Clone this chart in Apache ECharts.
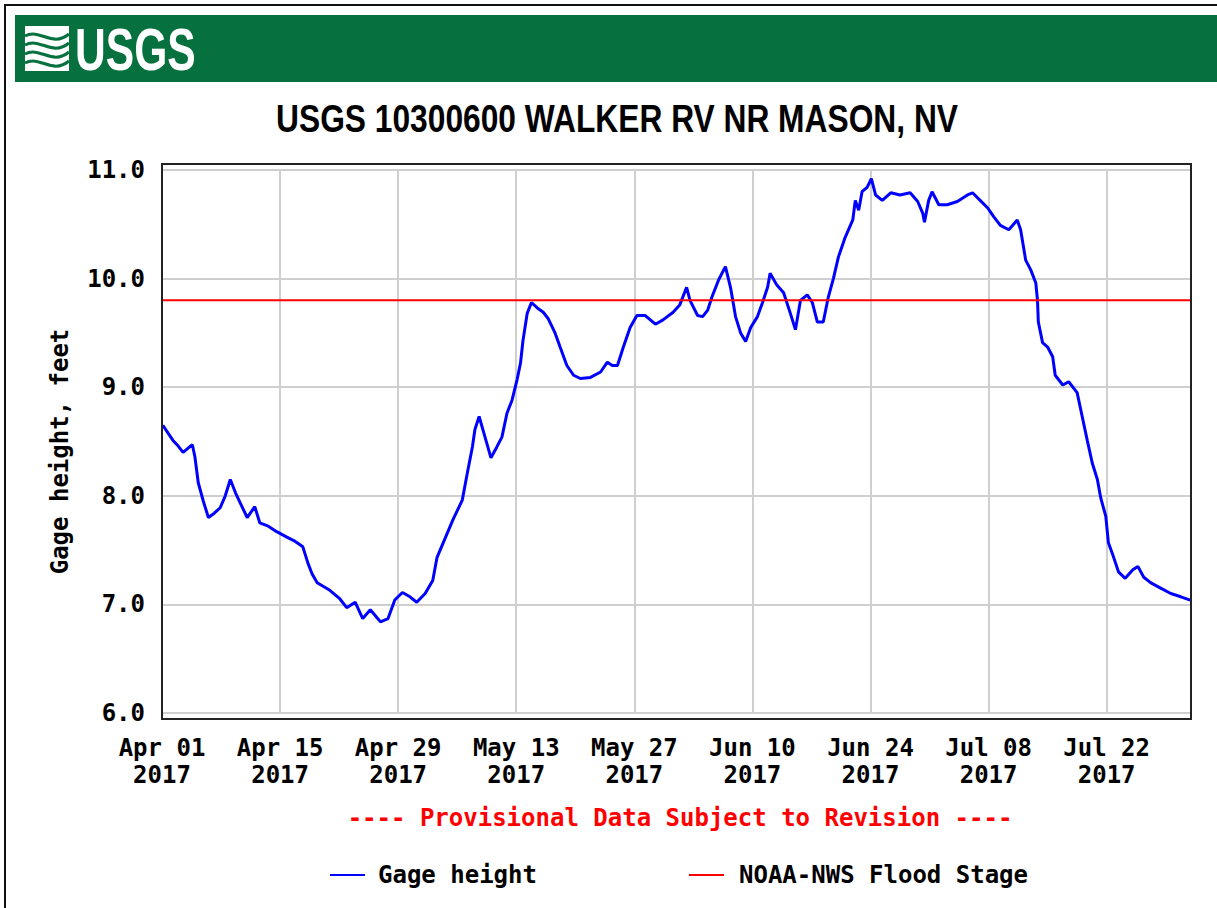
<!DOCTYPE html>
<html>
<head>
<meta charset="utf-8">
<script src="https://cdn.jsdelivr.net/npm/echarts@6/dist/echarts.min.js"></script>
<style>
html,body{margin:0;padding:0;background:#fff;}
#chart{width:1217px;height:908px;}
</style>
</head>
<body>
<div id="chart"></div>
<script>
// Days since 2017-04-01 00:00
const gageDays = [0.1,0.7,1.3,1.9,2.5,3.1,3.6,3.9,4.3,4.9,5.5,6.2,6.9,7.5,8.1,8.7,9.3,10.1,11.0,11.6,12.6,13.6,14.8,15.8,16.7,17.3,17.8,18.4,19.9,21.1,21.9,22.9,23.8,24.7,25.9,26.8,27.6,28.5,29.4,30.2,31.2,32.1,32.6,33.3,34.5,35.6,36.2,36.8,37.1,37.6,38.3,39.0,39.7,40.3,40.9,41.5,42.1,42.5,42.8,43.3,43.8,44.5,45.2,45.8,46.6,47.2,48.0,48.8,49.6,50.8,52.0,52.8,53.4,54.0,54.7,55.5,56.3,57.3,58.5,59.4,60.6,61.4,62.2,62.6,63.5,64.1,64.7,65.2,66.0,66.8,67.4,68.0,68.6,69.2,69.8,70.6,71.2,71.8,72.1,72.9,73.7,74.5,75.1,75.7,76.5,77.1,77.7,78.4,79.0,79.6,80.2,81.0,81.9,82.2,82.6,83.0,83.6,84.1,84.6,85.4,86.4,87.5,88.7,89.6,90.2,90.4,90.9,91.3,92.1,93.1,94.3,95.5,96.1,97.0,97.9,98.6,99.4,100.4,101.4,101.8,102.4,103.0,103.6,103.8,103.9,104.4,105.0,105.6,105.9,106.8,107.5,108.5,109.1,109.7,110.3,110.9,111.3,111.9,112.2,112.8,113.4,114.2,115.1,115.7,116.4,117.2,118.4,119.6,120.8,121.9];
const gageFeet = [8.65,8.58,8.51,8.46,8.40,8.44,8.47,8.36,8.12,7.95,7.80,7.84,7.89,8.00,8.15,8.03,7.93,7.80,7.90,7.75,7.72,7.67,7.62,7.58,7.53,7.38,7.28,7.20,7.13,7.05,6.97,7.02,6.87,6.95,6.84,6.87,7.04,7.11,7.07,7.02,7.10,7.22,7.43,7.56,7.78,7.96,8.21,8.45,8.61,8.73,8.54,8.35,8.45,8.54,8.76,8.88,9.07,9.22,9.43,9.68,9.78,9.73,9.69,9.63,9.50,9.37,9.20,9.11,9.08,9.09,9.14,9.23,9.20,9.20,9.37,9.55,9.66,9.66,9.58,9.62,9.69,9.76,9.92,9.80,9.66,9.65,9.71,9.83,9.99,10.11,9.92,9.65,9.50,9.42,9.55,9.65,9.78,9.92,10.05,9.94,9.87,9.68,9.53,9.80,9.85,9.78,9.60,9.60,9.83,10.00,10.20,10.38,10.54,10.72,10.63,10.80,10.84,10.92,10.77,10.72,10.79,10.77,10.79,10.71,10.60,10.52,10.72,10.80,10.68,10.68,10.71,10.77,10.79,10.72,10.65,10.57,10.49,10.45,10.54,10.45,10.17,10.08,9.96,9.80,9.60,9.41,9.37,9.28,9.11,9.02,9.05,8.95,8.73,8.51,8.30,8.15,7.98,7.81,7.57,7.44,7.30,7.24,7.32,7.35,7.25,7.20,7.15,7.10,7.07,7.04];
const floodDays = [0, 122];
const floodFeet = [9.8, 9.8];
const xTickLabels = ["Apr 01","Apr 15","Apr 29","May 13","May 27","Jun 10","Jun 24","Jul 08","Jul 22"];
const xTickYear = "2017";
const xMin = 0, xMax = 122, xStep = 14;
const yMin = 6, yMax = 11, yStep = 1;
const titleText = "USGS 10300600 WALKER RV NR MASON, NV";
const provisionalText = "---- Provisional Data Subject to Revision ----";
const yAxisName = "Gage height, feet";

const mono = '"DejaVu Sans Mono", "Liberation Mono", monospace';
const FS = 24;
const chart = echarts.init(document.getElementById('chart'), null, {renderer: 'svg'});

chart.setOption({
  animation: false,
  backgroundColor: '#ffffff',
  title: [{
    text: provisionalText,
    left: 675, top: 801, textAlign: 'center',
    textStyle: {fontFamily: mono, fontWeight: 'bold', fontSize: FS, color: '#ff0000'}
  }],
  legend: [{
    data: [{name: 'Gage height', icon: 'rect'}],
    left: 325, top: 858, itemWidth: 35, itemHeight: 2,
    textStyle: {fontFamily: mono, fontWeight: 'bold', fontSize: FS, color: '#000', padding: [0,0,0,8]}
  }, {
    data: [{name: 'NOAA-NWS Flood Stage', icon: 'rect'}],
    left: 684, top: 858, itemWidth: 35, itemHeight: 2,
    textStyle: {fontFamily: mono, fontWeight: 'bold', fontSize: FS, color: '#000', padding: [0,0,0,10]}
  }],
  grid: {left: 162, right: 26, top: 170, bottom: 195, containLabel: false},
  xAxis: {
    type: 'value', min: xMin, max: xMax, interval: xStep,
    axisLine: {show: false}, axisTick: {show: false},
    splitLine: {show: true, lineStyle: {color: '#cfcfcf', width: 2}},
    axisLabel: {
      margin: 21, showMaxLabel: false,
      fontFamily: mono, fontWeight: 'bold', fontSize: FS, color: '#000', lineHeight: 27,
      formatter: function (v) {
        const i = Math.round((v - xMin) / xStep);
        if (Math.abs(v - xMin - i * xStep) > 1e-6 || !xTickLabels[i]) return '';
        return xTickLabels[i] + '\n' + xTickYear;
      }
    }
  },
  yAxis: {
    type: 'value', min: yMin, max: yMax, interval: yStep,
    name: yAxisName, nameLocation: 'middle', nameGap: 90, nameRotate: 90,
    nameTextStyle: {fontFamily: mono, fontWeight: 'bold', fontSize: FS, color: '#000', padding: [0, 20, 0, 0]},
    axisLine: {show: false}, axisTick: {show: false},
    splitLine: {show: true, lineStyle: {color: '#cfcfcf', width: 2}},
    axisLabel: {
      margin: 17, fontFamily: mono, fontWeight: 'bold', fontSize: FS, color: '#000',
      formatter: function (v) { return v.toFixed(1); }
    }
  },
  series: [{
    name: 'Gage height', type: 'line', showSymbol: false, symbol: 'none',
    color: '#0000ff',
    lineStyle: {color: '#0000ff', width: 3},
    data: gageDays.map((d, i) => [d, gageFeet[i]]),
    z: 3
  }, {
    name: 'NOAA-NWS Flood Stage', type: 'line', showSymbol: false, symbol: 'none',
    color: '#ff0000',
    lineStyle: {color: '#ff0000', width: 2},
    data: floodDays.map((d, i) => [d, floodFeet[i]]),
    z: 4
  }],
  graphic: [
    // outer border
    {type: 'polyline', silent: true, shape: {points: [[5, 908], [5, 5], [1217, 5]]},
     style: {stroke: '#111', lineWidth: 2, fill: null}},
    // header band
    {type: 'rect', silent: true, shape: {x: 15, y: 15, width: 1202, height: 67},
     style: {fill: '#07703f'}},
    // logo waves
    {type: 'group', silent: true, children: [
      {type: 'rect', shape: {x: 25, y: 26, width: 44, height: 45}, style: {fill: '#ffffff'}},
      {type: 'bezierCurve', shape: {x1: 25, y1: 36, cpx1: 40, cpy1: 28, cpx2: 52, cpy2: 48, x2: 69, y2: 34},
       style: {stroke: '#07703f', lineWidth: 3, fill: null}},
      {type: 'bezierCurve', shape: {x1: 25, y1: 45, cpx1: 40, cpy1: 37, cpx2: 52, cpy2: 57, x2: 69, y2: 43},
       style: {stroke: '#07703f', lineWidth: 3, fill: null}},
      {type: 'bezierCurve', shape: {x1: 25, y1: 54, cpx1: 40, cpy1: 46, cpx2: 52, cpy2: 66, x2: 69, y2: 52},
       style: {stroke: '#07703f', lineWidth: 3, fill: null}},
      {type: 'bezierCurve', shape: {x1: 25, y1: 63, cpx1: 40, cpy1: 55, cpx2: 52, cpy2: 75, x2: 69, y2: 61},
       style: {stroke: '#07703f', lineWidth: 3, fill: null}}
    ]},
    {type: 'text', silent: true, x: 75, y: 49, scaleX: 0.71,
     style: {text: 'USGS', fill: '#ffffff', font: 'bold 60px "Liberation Sans Narrow", "Liberation Sans", sans-serif',
             textAlign: 'left', textVerticalAlign: 'middle'}},
    // title
    {type: 'text', silent: true, x: 617, y: 119, scaleX: 0.814,
     style: {text: titleText, fill: '#000', font: 'bold 39px "Liberation Sans Narrow", "Liberation Sans", sans-serif',
             textAlign: 'center', textVerticalAlign: 'middle'}},
    // plot frame
    {type: 'rect', silent: true, z: 10, shape: {x: 162, y: 164, width: 1029, height: 555},
     style: {fill: null, stroke: '#222', lineWidth: 2}}
  ]
});
</script>
</body>
</html>
